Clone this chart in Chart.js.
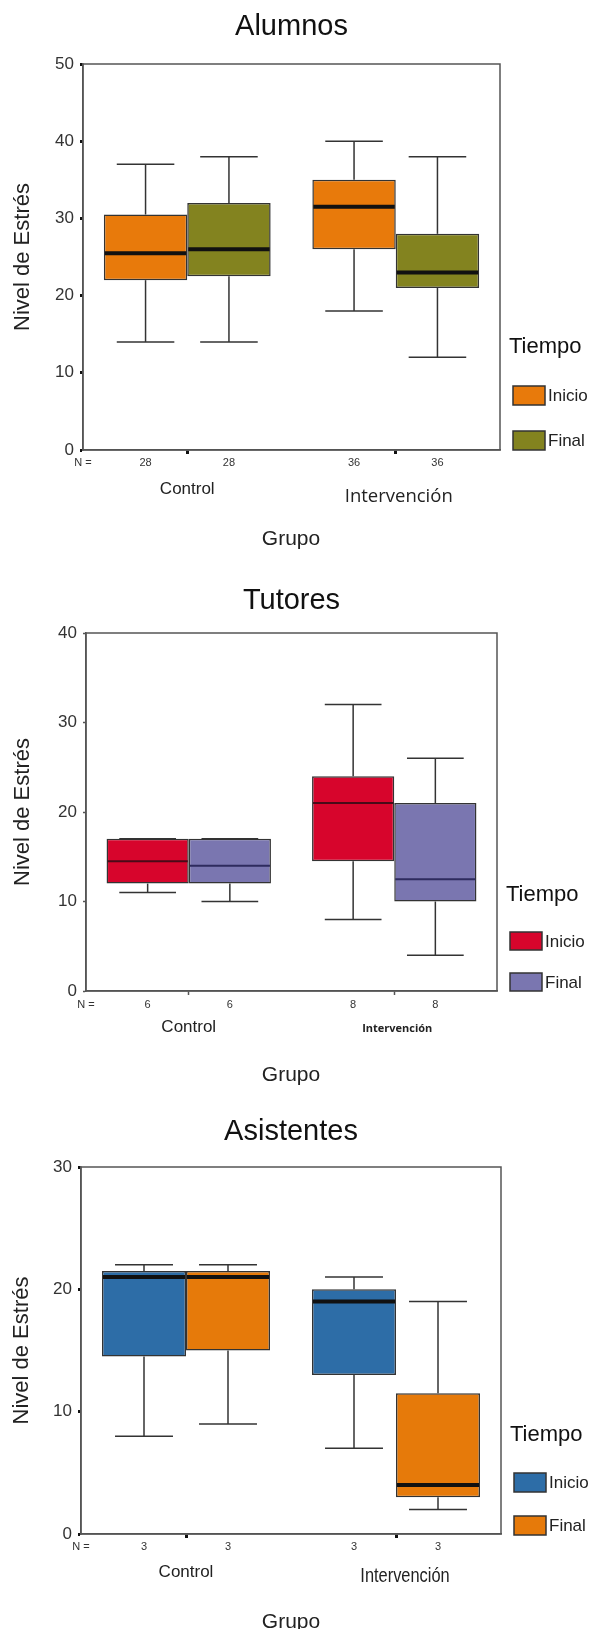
<!DOCTYPE html>
<html>
<head>
<meta charset="utf-8">
<script src="https://cdn.jsdelivr.net/npm/chart.js@4.4.1/dist/chart.umd.min.js"></script>
<style>
  body { margin: 0; background: #fff; }
  canvas { position: absolute; left: 0; }
</style>
</head>
<body>
<canvas id="alumnos" width="592" height="560" style="top:0"></canvas>
<canvas id="tutores" width="592" height="540" style="top:560px"></canvas>
<canvas id="asistentes" width="592" height="529" style="top:1100px"></canvas>
<script>
var grupos = ['Control', 'Intervención'];
var tiempos = ['Inicio', 'Final'];

// resumen de cinco numeros por grupo: [min, Q1, mediana, Q3, max]
var alumnosInicio = [[14, 22, 25.5, 30.5, 37], [18, 26, 31.5, 35, 40]];
var alumnosFinal = [[14, 22.5, 26, 32, 38], [12, 21, 23, 28, 38]];
var alumnosN = [28, 36];
var alumnosTicks = [0, 10, 20, 30, 40, 50];

var tutoresInicio = [[11, 12, 14.5, 17, 17], [8, 14.5, 21, 24, 32]];
var tutoresFinal = [[10, 12, 14, 17, 17], [4, 10, 12.5, 21, 26]];
var tutoresN = [6, 8];
var tutoresTicks = [0, 10, 20, 30, 40];

var asistentesInicio = [[8, 14.5, 21, 21.5, 22], [7, 13, 19, 20, 21]];
var asistentesFinal = [[9, 15, 21, 21.5, 22], [2, 3, 4, 11.5, 19]];
var asistentesN = [3, 3];
var asistentesTicks = [0, 10, 20, 30];

var SANS = '"Liberation Sans", Arial, sans-serif';

function texto(ctx, s, x, y, font, color, align, sx) {
    ctx.save();
    ctx.font = font;
    ctx.fillStyle = color || '#222';
    ctx.textAlign = align || 'center';
    ctx.textBaseline = 'middle';
    ctx.translate(x, y);
    if (sx) ctx.scale(sx, 1);
    ctx.fillText(s, 0, 0);
    ctx.restore();
}

function linea(ctx, x1, y1, x2, y2) {
    ctx.beginPath();
    ctx.moveTo(x1, y1);
    ctx.lineTo(x2, y2);
    ctx.stroke();
}

function boxChart(id, titulo, inicio, fin, nn, ticks, st) {
    var canvas = document.getElementById(id);
    var W = canvas.width, H = canvas.height;

    var cajas = {
        id: 'cajas',
        beforeDatasetsDraw: function (chart) {
            var ctx = chart.ctx, a = chart.chartArea;
            ctx.save();
            ctx.strokeStyle = '#555';
            ctx.lineWidth = 1.5;
            ctx.strokeRect(a.left, a.top, a.right - a.left, a.bottom - a.top);
            ctx.restore();
        },
        afterDatasetsDraw: function (chart) {
            var ctx = chart.ctx, y = chart.scales.y;
            ctx.save();
            chart.data.datasets.forEach(function (ds, i) {
                chart.getDatasetMeta(i).data.forEach(function (bar, j) {
                    var s = ds.stats[j], w = bar.width, cap = w * 0.69;
                    ctx.strokeStyle = '#333';
                    ctx.lineWidth = 1.5;
                    linea(ctx, bar.x, y.getPixelForValue(s[3]), bar.x, y.getPixelForValue(s[4]));
                    linea(ctx, bar.x, y.getPixelForValue(s[1]), bar.x, y.getPixelForValue(s[0]));
                    linea(ctx, bar.x - cap / 2, y.getPixelForValue(s[4]), bar.x + cap / 2, y.getPixelForValue(s[4]));
                    linea(ctx, bar.x - cap / 2, y.getPixelForValue(s[0]), bar.x + cap / 2, y.getPixelForValue(s[0]));
                    ctx.strokeStyle = st.medians[i];
                    ctx.lineWidth = st.medianWidth;
                    linea(ctx, bar.x - w / 2 + 1, y.getPixelForValue(s[2]), bar.x + w / 2 - 1, y.getPixelForValue(s[2]));
                });
            });
            ctx.restore();
        }
    };

    var textos = {
        id: 'textos',
        afterDraw: function (chart) {
            var ctx = chart.ctx, a = chart.chartArea, x = chart.scales.x;
            texto(ctx, titulo, (a.left + a.right) / 2 + st.titleDx, st.titleY, '29px ' + SANS, '#111');

            ctx.save();
            ctx.translate(st.yTitleX, (a.top + a.bottom) / 2);
            ctx.rotate(-Math.PI / 2);
            texto(ctx, 'Nivel de Estrés', 0, 0, '22px ' + SANS, '#222');
            ctx.restore();

            texto(ctx, 'N =', a.left, st.nY, '11px ' + SANS, '#333');
            chart.data.datasets.forEach(function (ds, i) {
                chart.getDatasetMeta(i).data.forEach(function (bar, j) {
                    texto(ctx, String(nn[j]), bar.x, st.nY, '11px ' + SANS, '#333');
                });
            });

            grupos.forEach(function (g, j) {
                texto(ctx, g, x.getPixelForValue(j) + st.groupDx[j], a.bottom + st.groupDy[j],
                      st.groupFont[j], '#222', 'center', st.groupSx[j]);
            });
            texto(ctx, 'Grupo', 291, st.grupoY, '21px ' + SANS, '#222');

            var bx = a.right + 13;
            texto(ctx, 'Tiempo', a.right + 9, st.tiempoY, '22px ' + SANS, '#111', 'left');
            chart.data.datasets.forEach(function (ds, i) {
                var top = st.legendTop[i];
                ctx.save();
                ctx.fillStyle = ds.backgroundColor;
                ctx.fillRect(bx, top, 32, st.legendH);
                ctx.strokeStyle = '#333';
                ctx.lineWidth = 1.5;
                ctx.strokeRect(bx, top, 32, st.legendH);
                ctx.restore();
                texto(ctx, ds.label, bx + 35, top + st.legendH / 2 + 1, '17px ' + SANS, '#222', 'left');
            });
        }
    };

    function serie(label, stats, color) {
        return {
            label: label,
            data: stats.map(function (s) { return [s[1], s[3]]; }),
            stats: stats,
            backgroundColor: color,
            borderColor: '#333',
            borderWidth: 1.5,
            borderSkipped: false,
            categoryPercentage: 0.8,
            barPercentage: 1.0
        };
    }

    return new Chart(canvas.getContext('2d'), {
        type: 'bar',
        data: {
            labels: grupos,
            datasets: [serie(tiempos[0], inicio, st.colors[0]), serie(tiempos[1], fin, st.colors[1])]
        },
        options: {
            responsive: false,
            animation: false,
            events: [],
            layout: { padding: { top: st.top, right: W - st.right, bottom: H - st.bottom - 6, left: 0 } },
            plugins: { legend: { display: false }, tooltip: { enabled: false } },
            scales: {
                x: {
                    offset: true,
                    grid: { display: true, drawOnChartArea: false, offset: false, tickLength: 4, tickWidth: st.tickW, tickColor: st.tickColor },
                    ticks: { display: false },
                    border: { color: '#555', width: 1.5 },
                    afterFit: function (s) { s.height = 6; }
                },
                y: {
                    min: ticks[0],
                    max: ticks[ticks.length - 1],
                    ticks: { stepSize: ticks[1] - ticks[0], padding: 6, color: '#333', font: { family: SANS, size: 17 } },
                    grid: { drawOnChartArea: false, tickLength: 3, tickWidth: st.tickW, tickColor: st.tickColor },
                    border: { color: '#555', width: 1.5 },
                    afterFit: function (s) { s.width = st.left; }
                }
            }
        },
        plugins: [cajas, textos]
    });
}

boxChart('alumnos', 'Alumnos', alumnosInicio, alumnosFinal, alumnosN, alumnosTicks, {
    left: 83, right: 500, top: 64, bottom: 450,
    colors: ['#E87A0B', '#83831F'], medians: ['#111', '#111'], medianWidth: 4,
    tickW: 3, tickColor: '#111',
    titleY: 27, titleDx: 0, yTitleX: 23, nY: 463,
    groupDx: [0, 3], groupDy: [39, 47],
    groupFont: ['17px ' + SANS, '18.5px "Open Sans", sans-serif'], groupSx: [0, 0],
    grupoY: 539, tiempoY: 347, legendTop: [386, 431], legendH: 19
});

boxChart('tutores', 'Tutores', tutoresInicio, tutoresFinal, tutoresN, tutoresTicks, {
    left: 86, right: 497, top: 73, bottom: 431,
    colors: ['#D7052C', '#7A76B0'], medians: ['#4a0a18', '#2e2b5e'], medianWidth: 2,
    tickW: 1.5, tickColor: '#555',
    titleY: 41, titleDx: 0, yTitleX: 23, nY: 445,
    groupDx: [0, 3], groupDy: [36, 38],
    groupFont: ['17px ' + SANS, 'bold 11px "Open Sans", sans-serif'], groupSx: [0, 0],
    grupoY: 515, tiempoY: 335, legendTop: [372, 413], legendH: 18
});

boxChart('asistentes', 'Asistentes', asistentesInicio, asistentesFinal, asistentesN, asistentesTicks, {
    left: 81, right: 501, top: 67, bottom: 434,
    colors: ['#2D6DA7', '#E67A0A'], medians: ['#111', '#111'], medianWidth: 4,
    tickW: 3, tickColor: '#111',
    titleY: 31.5, titleDx: 0, yTitleX: 22, nY: 447,
    groupDx: [0, 9], groupDy: [38, 42],
    groupFont: ['17px ' + SANS, '20px ' + SANS], groupSx: [0, 0.82],
    grupoY: 522, tiempoY: 335, legendTop: [373, 416], legendH: 19
});
</script>
</body>
</html>
